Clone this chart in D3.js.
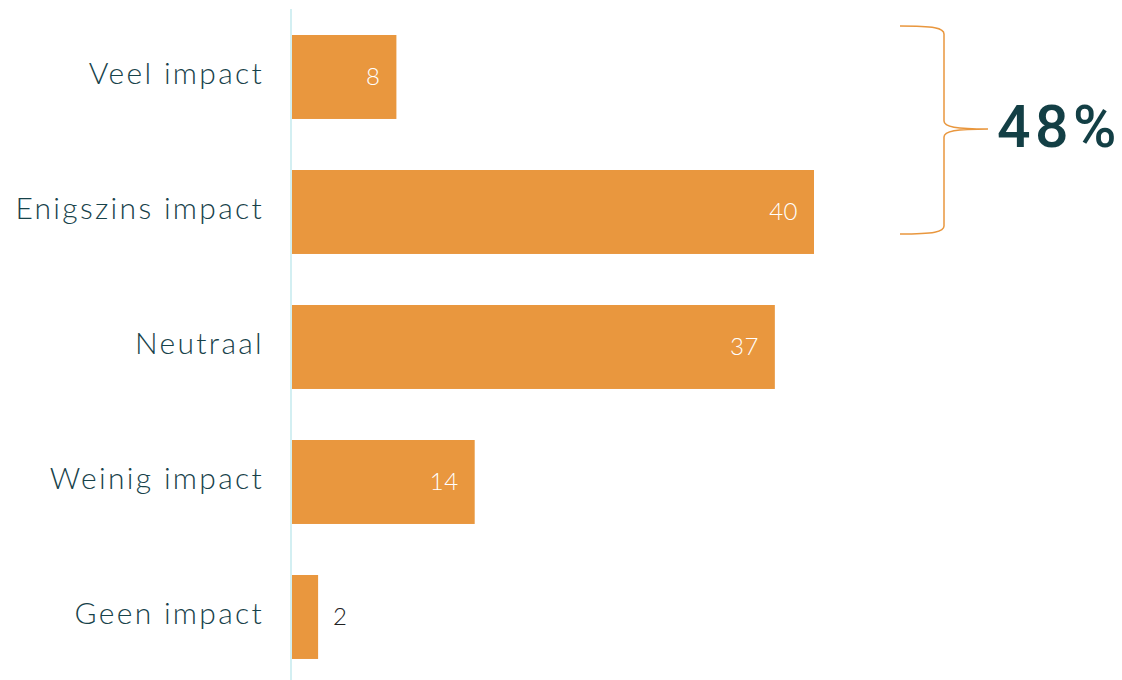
<!DOCTYPE html>
<html>
<head>
  <meta charset="UTF-8">
  <title>Impact</title>
  <style>
    body { margin: 0; background: #fff; }
  </style>
</head>
<body>
  <script src="https://d3js.org/d3.v7.min.js"></script>
  <script>
    // data
    let categories = ["Veel impact", "Enigszins impact", "Neutraal", "Weinig impact", "Geen impact"];
    let values = [8, 40, 37, 14, 2];
    let bracketLabel = "48%";

    let width = 1122, height = 680;
    let orange = "#e9973e";
    let teal = "#17424a";

    let svg = d3.select("body").append("svg")
      .attr("width", width)
      .attr("height", height);

    let x = d3.scaleLinear().domain([0, 40]).range([292, 814]);
    let y = d3.scaleBand().domain(categories)
      .range([35, 35 + 135 * (5 - 0.378)])
      .paddingInner(0.378)
      .paddingOuter(0);

    // axis line
    svg.append("line")
      .attr("x1", 291).attr("x2", 291)
      .attr("y1", 9).attr("y2", height)
      .attr("stroke", "#d3eff2")
      .attr("stroke-width", 2);

    // bars
    svg.selectAll("rect.bar")
      .data(values)
      .enter()
      .append("rect")
      .attr("class", "bar")
      .attr("x", x(0))
      .attr("y", (d, i) => y(categories[i]))
      .attr("width", d => x(d) - x(0))
      .attr("height", y.bandwidth())
      .attr("fill", orange);

    // value labels
    svg.selectAll("text.val")
      .data(values)
      .enter()
      .append("text")
      .attr("class", "val")
      .attr("x", d => d < 5 ? x(d) + 15 : x(d) - 16)
      .attr("y", (d, i) => y(categories[i]) + y.bandwidth() / 2)
      .attr("dy", "0.32em")
      .attr("text-anchor", d => d < 5 ? "start" : "end")
      .attr("font-family", "Lato, 'Open Sans', sans-serif")
      .attr("font-weight", 300)
      .attr("font-size", "24px")
      .attr("letter-spacing", "0.5px")
      .attr("fill", d => d < 5 ? "#222" : "#fff")
      .text(d => d);

    // category labels
    svg.selectAll("text.cat")
      .data(categories)
      .enter()
      .append("text")
      .attr("class", "cat")
      .attr("x", 264)
      .attr("y", d => y(d) + y.bandwidth() / 2)
      .attr("dy", "0.22em")
      .attr("text-anchor", "end")
      .attr("font-family", "Lato, 'Open Sans', sans-serif")
      .attr("font-weight", 300)
      .attr("font-size", "30px")
      .attr("letter-spacing", "2.3px")
      .attr("fill", teal)
      .text(d => d);

    // curly bracket over first two bars
    let bTop = 26, bBot = 234, bMid = 129;
    let bx0 = 900, bx1 = 944, tip = 988;
    let path = d3.path();
    path.moveTo(bx0, bTop);
    path.bezierCurveTo(bx1 - 10, bTop, bx1, bTop + 2, bx1, bTop + 8);
    path.lineTo(bx1, bMid - 8);
    path.bezierCurveTo(bx1, bMid - 2, bx1 + 12, bMid, tip, bMid);
    path.bezierCurveTo(bx1 + 12, bMid, bx1, bMid + 2, bx1, bMid + 8);
    path.lineTo(bx1, bBot - 8);
    path.bezierCurveTo(bx1, bBot - 2, bx1 - 10, bBot, bx0, bBot);
    svg.append("path")
      .attr("d", path.toString())
      .attr("fill", "none")
      .attr("stroke", orange)
      .attr("stroke-width", 1.5);

    svg.append("text")
      .attr("x", 997)
      .attr("y", 147)
      .attr("font-family", "Roboto, sans-serif")
      .attr("font-weight", 500)
      .attr("font-size", "59px")
      .attr("letter-spacing", "4.5px")
      .attr("fill", "#133f45")
      .text(bracketLabel);
  </script>
</body>
</html>
